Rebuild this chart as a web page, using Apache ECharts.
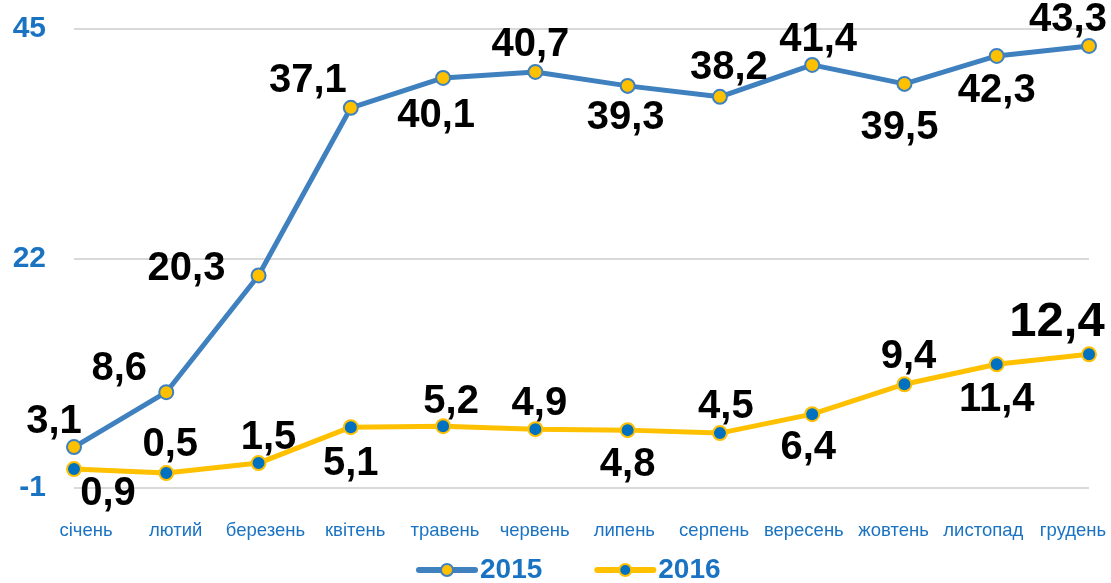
<!DOCTYPE html>
<html>
<head>
<meta charset="utf-8">
<script src="https://cdn.jsdelivr.net/npm/echarts@6/dist/echarts.min.js"></script>
<style>
  html, body { margin: 0; padding: 0; background: #ffffff; }
  #chart { width: 1111px; height: 583px; }
</style>
</head>
<body>
<div id="chart"></div>
<script>
// Months of the year
const months = ['січень', 'лютий', 'березень', 'квітень', 'травень', 'червень',
                'липень', 'серпень', 'вересень', 'жовтень', 'листопад', 'грудень'];

// Monthly values per year
const values2015 = [3.1, 8.6, 20.3, 37.1, 40.1, 40.7, 39.3, 38.2, 41.4, 39.5, 42.3, 43.3];
const values2016 = [0.9, 0.5, 1.5, 5.1, 5.2, 4.9, 4.8, 4.5, 6.4, 9.4, 11.4, 12.4];

// Value axis tick labels
const yTicks = [-1, 22, 45];

// Label placement (dx, dy from each point)
const offsets2015 = [[-20, -25], [-47, -23], [-72, -6], [-43, -27], [-7, 38], [-5, -27],
                     [-2, 32], [9, -29], [6, -25], [-5, 44], [0, 35], [-21, -26]];
const offsets2016 = [[34, 25], [4, -28], [10, -25], [0, 37], [8, -24], [4, -25],
                     [0, 35], [6, -26], [-4, 34], [4, -27], [0, 36], [-32, -32]];

const fmt = v => String(v).replace('.', ',');
const FONT = '"Liberation Sans", Arial, sans-serif';
const BLUE_TEXT = '#1a73c2';

function labelled(values, offsets, bigLast) {
  return values.map((v, i) => ({
    value: v,
    label: {
      offset: offsets[i],
      fontSize: (bigLast && i === values.length - 1) ? 49 : 40
    }
  }));
}

const chart = echarts.init(document.getElementById('chart'), null, { renderer: 'canvas' });

chart.setOption({
  animation: false,
  textStyle: { fontFamily: FONT },
  grid: [
    { left: 74, right: 22, top: 29, bottom: 95 },
    { left: 86, right: 38, top: 29, bottom: 95 }
  ],
  legend: {
    top: 556,
    left: 416,
    padding: 0,
    itemWidth: 56,
    itemHeight: 15,
    itemGap: 52,
    lineStyle: { width: 6, cap: 'round' },
    textStyle: { fontFamily: FONT, fontSize: 28, fontWeight: 'bold', color: BLUE_TEXT },
    data: ['2015', '2016']
  },
  xAxis: [
    {
      type: 'category',
      gridIndex: 0,
      data: months,
      boundaryGap: false,
      axisLine: { show: false },
      axisTick: { show: false },
      axisLabel: { show: false }
    },
    {
      type: 'category',
      gridIndex: 1,
      data: months,
      boundaryGap: false,
      axisLine: { show: false },
      axisTick: { show: false },
      axisLabel: { interval: 0, color: BLUE_TEXT, fontSize: 18.5, fontFamily: FONT, margin: 33 }
    }
  ],
  yAxis: [
    {
      type: 'value',
      gridIndex: 0,
      min: -1,
      max: 45,
      axisLine: { show: false },
      axisTick: { show: false, customValues: yTicks },
      axisLabel: {
        customValues: yTicks,
        color: BLUE_TEXT, fontSize: 30, fontWeight: 'bold', fontFamily: FONT, margin: 28
      },
      splitLine: { show: true, lineStyle: { color: '#d9d9d9', width: 2 } }
    },
    {
      type: 'value',
      gridIndex: 1,
      min: -1,
      max: 45,
      show: false
    }
  ],
  series: [
    {
      name: '2015',
      type: 'line',
      xAxisIndex: 0,
      yAxisIndex: 0,
      data: labelled(values2015, offsets2015, false),
      symbol: 'circle',
      symbolSize: 14,
      lineStyle: { color: '#3f80bf', width: 5 },
      itemStyle: { color: '#ffc000', borderColor: '#3f80bf', borderWidth: 2 },
      label: {
        show: true,
        position: 'inside',
        formatter: p => fmt(p.value),
        color: '#000000',
        fontWeight: 'bold',
        fontFamily: FONT,
        fontSize: 40
      },
      z: 3
    },
    {
      name: '2016',
      type: 'line',
      xAxisIndex: 0,
      yAxisIndex: 0,
      data: labelled(values2016, offsets2016, true),
      symbol: 'circle',
      symbolSize: 14,
      lineStyle: { color: '#ffc000', width: 5 },
      itemStyle: { color: '#0070c0', borderColor: '#ffc000', borderWidth: 2 },
      label: {
        show: true,
        position: 'inside',
        formatter: p => fmt(p.value),
        color: '#000000',
        fontWeight: 'bold',
        fontFamily: FONT,
        fontSize: 40
      },
      z: 4
    }
  ]
});
</script>
</body>
</html>
